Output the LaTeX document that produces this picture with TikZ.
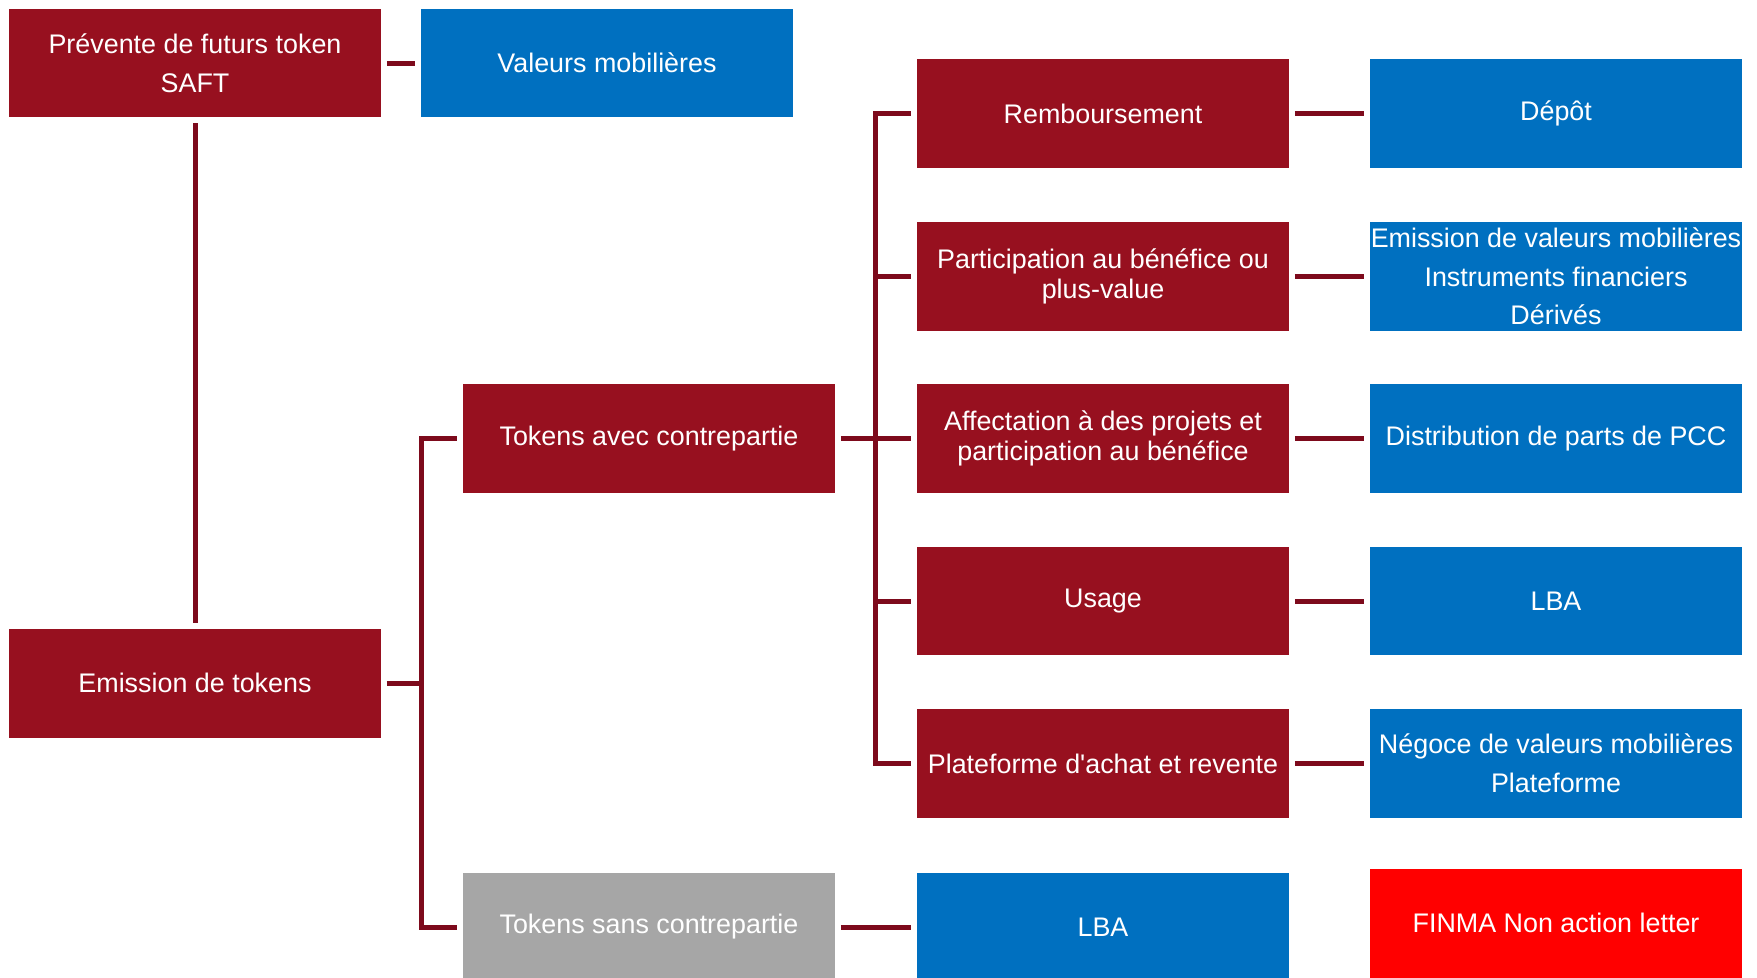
\documentclass[tikz,border=0pt]{standalone}
\usepackage{fontspec}
\setmainfont{Liberation Sans}[Ligatures=TeXOff]
\usetikzlibrary{calc}
\definecolor{wine}{HTML}{97101F}
\definecolor{wineline}{HTML}{7D0A1C}
\definecolor{mblue}{HTML}{0070C0}
\definecolor{mgray}{HTML}{A6A6A6}
\definecolor{alert}{HTML}{FF0000}

\begin{document}
\begin{tikzpicture}[x=0.02cm,y=-0.02cm,
  box/.style={minimum width=7.44cm,minimum height=2.18cm,inner sep=0pt,outer sep=0pt,text=white,align=center,font=\fontsize{15.3}{17}\selectfont},
  loose/.style={font=\fontsize{15.3}{22}\selectfont},
  redbox/.style={box,fill=wine},
  bluebox/.style={box,fill=mblue},
  conn/.style={draw=wineline,line width=0.1cm,shorten <=0.12cm,shorten >=0.12cm}]
  \useasboundingbox (0,0) rectangle (1757,977);

  \node (saft) at (195,63)[redbox,loose]{Prévente de futurs token\\SAFT};
  \node (valmob) at (607,63)[bluebox]{Valeurs mobilières};
  \node (emis) at (195,683)[redbox]{Emission de tokens};
  \node (avec) at (649,438.5)[redbox]{Tokens avec contrepartie};
  \node (sans) at (649,927)[box,fill=mgray]{Tokens sans contrepartie};
  \node (lbab) at (1103,927)[bluebox]{LBA};
  \node (finma) at (1556,923)[box,fill=alert]{FINMA Non action letter};

  % types de tokens avec contrepartie
  \node (remb) at (1103,113.5)[redbox]{Remboursement};
  \node (part) at (1103,276.5)[redbox]{Participation au bénéfice ou\\plus-value};
  \node (aff) at (1103,438.5)[redbox]{Affectation à des projets et\\participation au bénéfice};
  \node (usage) at (1103,601)[redbox]{Usage};
  \node (plat) at (1103,763.5)[redbox]{Plateforme d'achat et revente};

  \node (depot) at (1556,113.5)[bluebox]{Dépôt};
  \node (emvm) at (1556,276.5)[bluebox,loose]{Emission de valeurs mobilières\\Instruments financiers\\Dérivés};
  \node (pcc) at (1556,438.5)[bluebox]{Distribution de parts de PCC};
  \node (lbaa) at (1556,601)[bluebox]{LBA};
  \node (negoce) at (1556,763.5)[bluebox,loose]{Négoce de valeurs mobilières\\Plateforme};

  \coordinate (trunkA) at (421,0);
  \coordinate (trunkB) at (875,0);

  \draw[conn] (saft) -- (valmob);
  \draw[conn] (saft) -- (emis);
  \draw[conn] (emis.east) -- (emis.east -| trunkA) |- (avec.west);
  \draw[conn] (emis.east) -- (emis.east -| trunkA) |- (sans.west);
  \draw[conn] (avec) -- (aff);
  \foreach \n in {remb,part,usage,plat}
    \draw[conn,shorten <=0pt] (avec.east -| trunkB) |- (\n.west);
  \draw[conn] (sans) -- (lbab);

  \draw[conn] (remb) -- (depot);
  \draw[conn] (part) -- (emvm);
  \draw[conn] (aff) -- (pcc);
  \draw[conn] (usage) -- (lbaa);
  \draw[conn] (plat) -- (negoce);

\end{tikzpicture}
\end{document}
